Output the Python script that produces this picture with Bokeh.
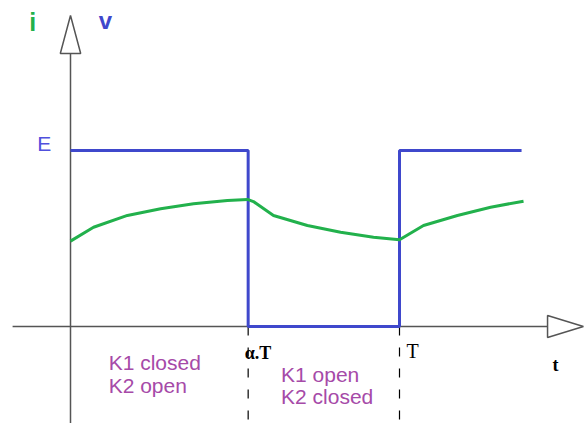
from bokeh.plotting import figure
from bokeh.models import Range1d
from bokeh.core.properties import value
from bokeh.embed import file_html
from bokeh.resources import INLINE

# --- data (time in units of T, voltage/current in units of E) ---
alpha = 0.54
T = 1.0
t_end = 1.371
E = 1.0

v_t = [0.0, alpha, alpha, T, T, t_end]
v_v = [E, E, 0.0, 0.0, E, E]

i_t = [0.0, 0.070, 0.173, 0.274, 0.374, 0.477, 0.538, 0.556, 0.617, 0.720, 0.821,
       0.921, 1.0, 1.073, 1.176, 1.277, 1.377]
i_v = [0.485, 0.564, 0.631, 0.669, 0.697, 0.716, 0.722, 0.710, 0.631, 0.574, 0.536,
       0.507, 0.493, 0.574, 0.631, 0.678, 0.712]

# pixel scale of the reference (for ranges)
px_t = 329.0
px_v = 176.0
W, H = 585, 423
x0 = -70 / px_t
y0 = -97 / px_v

p = figure(width=W, height=H, output_backend="svg", toolbar_location=None,
           x_range=Range1d(x0, x0 + W / px_t), y_range=Range1d(y0, y0 + H / px_v),
           min_border=0)
p.axis.visible = False
p.grid.visible = False
p.outline_line_color = None
p.background_fill_color = "white"

axis_col = "#555555"
# horizontal axis
h_start, h_end = -0.176, 1.45
p.line([h_start, h_end], [0, 0], line_color=axis_col, line_width=1.5)
ah_len, ah_half = 0.109, 0.0625
p.patch([h_end, h_end + ah_len, h_end], [ah_half, 0, -ah_half], fill_color="white",
        line_color=axis_col, line_width=1.5)
# vertical axis
v_start, v_end = -0.56, 1.551
p.line([0, 0], [v_start, v_end], line_color=axis_col, line_width=1.5)
av_len, av_half = 0.216, 0.031
p.patch([-av_half, 0, av_half], [v_end, v_end + av_len, v_end], fill_color="white",
        line_color=axis_col, line_width=1.5)

# dashed switching markers
for tx in [alpha, T]:
    p.line([tx, tx], [0, -0.6], line_color="black", line_width=1.2, line_dash="9 12")

# voltage and current
p.line(v_t, v_v, line_color="#3f48cc", line_width=3)
p.line(i_t, i_v, line_color="#22b14c", line_width=3, line_join="round")

sans = value("Liberation Sans")
serif = value("Liberation Serif")

p.text(x=[-0.115], y=[1.73], text=["i"], text_font=sans, text_font_style="bold",
       text_font_size="25px", text_color="#22b14c", text_align="center", text_baseline="middle")
p.text(x=[0.106], y=[1.74], text=["v"], text_font=sans, text_font_style="bold",
       text_font_size="24px", text_color="#3f48cc", text_align="center", text_baseline="middle")
p.text(x=[-0.08], y=[1.04], text=["E"], text_font=sans,
       text_font_size="21px", text_color="#5050dd", text_align="center", text_baseline="middle")
p.text(x=[alpha + 0.03], y=[-0.15], text=["α.T"], text_font=serif, text_font_style="bold",
       text_font_size="18px", text_color="black", text_align="center", text_baseline="middle")
p.text(x=[T + 0.04], y=[-0.14], text=["T"], text_font=serif,
       text_font_size="20px", text_color="black", text_align="center", text_baseline="middle")
p.text(x=[1.474], y=[-0.22], text=["t"], text_font=serif, text_font_style="bold",
       text_font_size="18px", text_color="black", text_align="center", text_baseline="middle")

mag = "#a64aa8"
p.text(x=[0.116, 0.116], y=[-0.205, -0.335], text=["K1 closed", "K2 open"], text_font=sans,
       text_font_size="21px", text_color=mag, text_align="left", text_baseline="middle")
p.text(x=[0.64, 0.64], y=[-0.27, -0.40], text=["K1 open", "K2 closed"], text_font=sans,
       text_font_size="21px", text_color=mag, text_align="left", text_baseline="middle")

open("out.html", "w").write(file_html(p, INLINE))
